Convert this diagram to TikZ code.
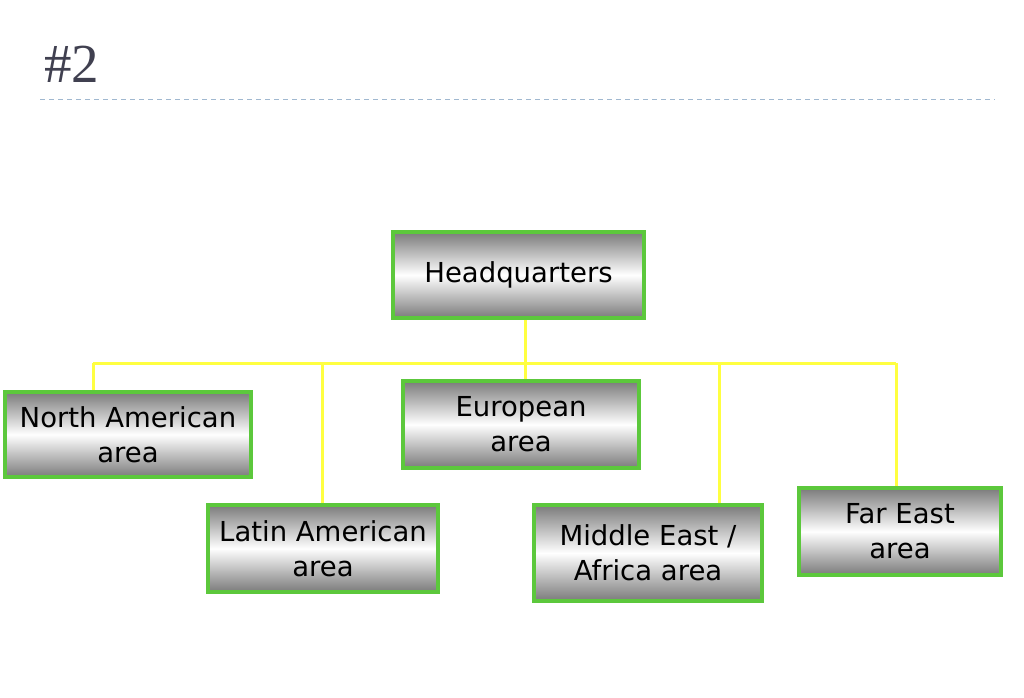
\documentclass[tikz,border=0pt]{standalone}
\usepackage{fontspec}
\setmainfont{DejaVu Sans}
\newfontfamily\titlefont{Liberation Serif}
\usetikzlibrary{backgrounds}
\definecolor{boxgreen}{RGB}{92,200,60}
\definecolor{linkyellow}{RGB}{255,255,64}
\definecolor{titlegray}{RGB}{64,64,80}
\definecolor{dashblue}{RGB}{160,184,208}
\begin{document}
\begin{tikzpicture}[x=1pt,y=-1pt,
  area/.style={draw=boxgreen, line width=4.5pt, top color=black!52, bottom color=black!52, middle color=white,
    inner sep=0pt, align=center, font=\fontsize{27.5}{35}\selectfont, text=black},
  link/.style={draw=linkyellow, line width=3pt}]
\useasboundingbox (0,0) rectangle (1024,697);
\node[anchor=base west, font=\titlefont\fontsize{55}{55}\selectfont, text=titlegray, inner sep=0pt] (title) at (44,82) {\#2};
\coordinate (dl) at (40,99);
\coordinate (dr) at (995,99);
\draw[dashblue, line width=1pt, dash pattern=on 5pt off 4pt] (dl) -- (dr);

\node[area, minimum width=251pt, minimum height=86pt] (hq) at (518.5,275) {Headquarters};
\node[area, minimum width=246pt, minimum height=85pt] (na) at (128,434.5) {North American\\area};
\node[area, minimum width=236pt, minimum height=87pt] (eu) at (521,424.5) {European\\area};
\node[area, minimum width=230pt, minimum height=87pt] (la) at (323,548.5) {Latin American\\area};
\node[area, minimum width=228pt, minimum height=96pt] (me) at (648,553) {Middle East /\\Africa area};
\node[area, minimum width=202pt, minimum height=87pt] (fe) at (900,531.5) {Far East\\area};

\coordinate (busL) at (93,363);
\coordinate (busR) at (896,363);
\coordinate (busC) at (525,363);
\coordinate (busLa) at (322,363);
\coordinate (busMe) at (719,363);
\begin{scope}[on background layer]
\draw[link] (busL) -- (busR);
\draw[link] (hq.south -| busC) -- (eu.north -| busC);
\draw[link] (busL) -- (na.north -| busL);
\draw[link] (busLa) -- (la.north -| busLa);
\draw[link] (busMe) -- (me.north -| busMe);
\draw[link] (busR) -- (fe.north -| busR);
\end{scope}
\end{tikzpicture}
\end{document}
